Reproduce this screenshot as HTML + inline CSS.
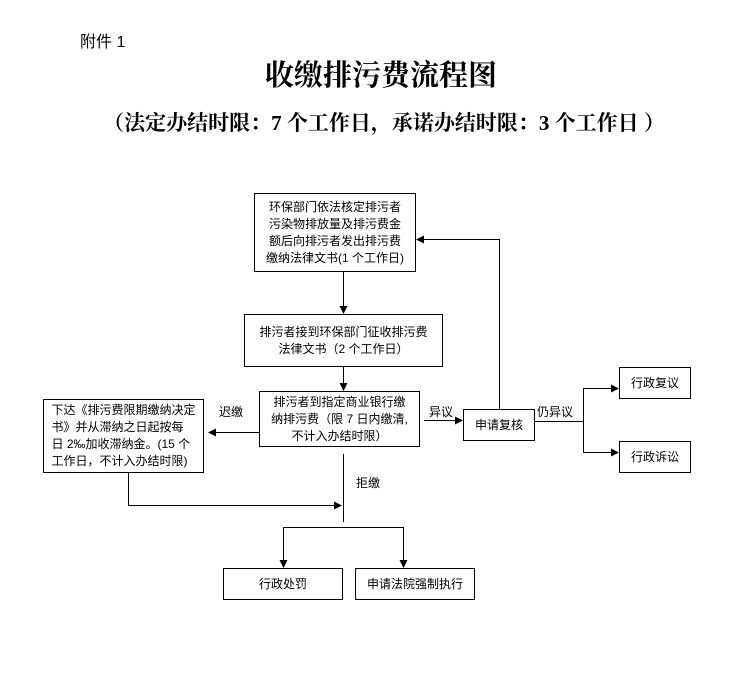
<!DOCTYPE html>
<html><head><meta charset="utf-8"><style>
body{margin:0;width:737px;height:699px;background:#fff;position:relative;overflow:hidden;font-family:"Liberation Sans","Noto Sans CJK SC",sans-serif;color:#000}
.t{position:absolute;white-space:nowrap}
.b{position:absolute;border:1px solid #000;box-sizing:border-box;display:flex;align-items:center;justify-content:center;text-align:center;font-size:12px;line-height:17px}
svg{position:absolute;left:0;top:0}
</style></head><body>
<div class="t" style="left:80px;top:28px;font-size:16px">附件 1</div>
<div class="t" style="left:0;width:762px;text-align:center;top:53px;font-size:29px;font-weight:bold;font-family:'Liberation Serif','Noto Serif CJK SC',serif">收缴排污费流程图</div>
<div class="t" style="left:0;width:768px;text-align:center;top:107px;font-size:21px;font-weight:bold;font-family:'Liberation Serif','Noto Serif CJK SC',serif">（法定办结时限：7 个工作日，承诺办结时限：3 个工作日 ）</div>

<svg width="737" height="699">
<defs><marker id="a" markerWidth="8" markerHeight="8" refX="7" refY="4" orient="auto" markerUnits="userSpaceOnUse"><path d="M0,0 L8,4 L0,8z" fill="#000"/></marker></defs>
<g stroke="#000" stroke-width="1" fill="none">
<line x1="343.5" y1="272" x2="343.5" y2="313" marker-end="url(#a)"/>
<line x1="343.5" y1="367" x2="343.5" y2="390" marker-end="url(#a)"/>
<line x1="259" y1="432.5" x2="209" y2="432.5" marker-end="url(#a)"/>
<line x1="424" y1="420.5" x2="462" y2="420.5" marker-end="url(#a)"/>
<polyline points="499.5,409 499.5,239.5 417,239.5" marker-end="url(#a)"/>
<line x1="535" y1="421.5" x2="583" y2="421.5"/>
<line x1="583.5" y1="388" x2="583.5" y2="453"/>
<line x1="583" y1="388.5" x2="618" y2="388.5" marker-end="url(#a)"/>
<line x1="583" y1="452.5" x2="618" y2="452.5" marker-end="url(#a)"/>
<line x1="343.5" y1="454" x2="343.5" y2="522"/>
<polyline points="128.5,473 128.5,505.5 341,505.5" marker-end="url(#a)"/>
<polyline points="283.5,567 283.5,527.5 403.5,527.5 403.5,567"/>
<line x1="283.5" y1="550" x2="283.5" y2="567" marker-end="url(#a)"/>
<line x1="403.5" y1="550" x2="403.5" y2="567" marker-end="url(#a)"/>
</g></svg>

<div class="b" style="left:254px;top:193px;width:162px;height:79px">环保部门依法核定排污者<br>污染物排放量及排污费金<br>额后向排污者发出排污费<br>缴纳法律文书(1 个工作日)</div>
<div class="b" style="left:244px;top:314px;width:199px;height:53px">排污者接到环保部门征收排污费<br>法律文书（2 个工作日）</div>
<div class="b" style="left:259px;top:391px;width:161px;height:56px">排污者到指定商业银行缴<br>纳排污费（限 7 日内缴清,<br>不计入办结时限）</div>
<div class="b" style="left:43px;top:399px;width:161px;height:74px;text-align:left">下达《排污费限期缴纳决定<br>书》并从滞纳之日起按每<br>日 2‰加收滞纳金。(15 个<br>工作日，不计入办结时限)</div>
<div class="b" style="left:463px;top:409px;width:72px;height:32px">申请复核</div>
<div class="b" style="left:619px;top:367px;width:72px;height:32px">行政复议</div>
<div class="b" style="left:619px;top:441px;width:72px;height:32px">行政诉讼</div>
<div class="b" style="left:223px;top:568px;width:120px;height:32px">行政处罚</div>
<div class="b" style="left:355px;top:568px;width:120px;height:32px">申请法院强制执行</div>
<div class="t" style="left:219px;top:403px;font-size:12px">迟缴</div>
<div class="t" style="left:429px;top:403px;font-size:12px">异议</div>
<div class="t" style="left:537px;top:403px;font-size:12px">仍异议</div>
<div class="t" style="left:356px;top:474px;font-size:12px">拒缴</div>
</body></html>
